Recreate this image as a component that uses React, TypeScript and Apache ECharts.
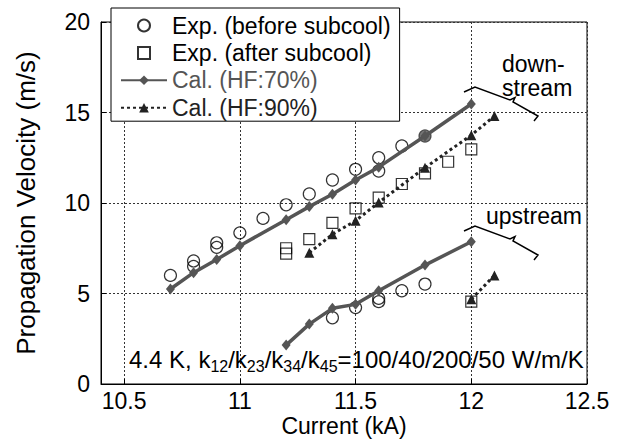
import React, { useEffect, useRef } from 'react';
import * as echarts from 'echarts';

const FONT = '"Liberation Sans", Arial, Helvetica, sans-serif';

// Experimental data, before subcool (downstream, upstream)
const expBeforeDown: number[][] = [
  [10.7, 6.0], [10.8, 6.8], [10.8, 6.5], [10.9, 7.8], [10.9, 7.55], [11.0, 8.35],
  [11.1, 9.15], [11.2, 9.9], [11.3, 10.5], [11.4, 11.27], [11.5, 11.86],
  [11.6, 12.5], [11.6, 11.77], [11.7, 13.15], [11.8, 13.7],
];
const expBeforeUp: number[][] = [
  [11.4, 3.66], [11.5, 4.22], [11.6, 4.73], [11.6, 4.55], [11.7, 5.15], [11.8, 5.52],
];
const grayFilledPoint = [11.8, 13.7];

// Experimental data, after subcool
const expAfterDown: number[][] = [
  [11.2, 7.5], [11.2, 7.2], [11.3, 8.0], [11.4, 8.9], [11.5, 9.7], [11.6, 10.3],
  [11.7, 11.05], [11.8, 11.64], [11.9, 12.28], [12.0, 12.96],
];
const expAfterUp: number[][] = [[12.0, 4.55]];

// Calculation HF 70%
const cal70Down: number[][] = [
  [10.7, 5.25], [10.8, 6.15], [10.9, 6.88], [11.0, 7.64], [11.2, 9.08], [11.3, 9.8],
  [11.4, 10.48], [11.5, 11.27], [11.6, 11.98], [11.8, 13.7], [12.0, 15.47],
];
const cal70Up: number[][] = [
  [11.2, 2.15], [11.3, 3.31], [11.4, 4.18], [11.5, 4.4], [11.6, 5.15], [11.8, 6.57], [12.0, 7.86],
];

// Calculation HF 90%
const cal90Down: number[][] = [
  [11.3, 7.25], [11.4, 8.27], [11.5, 9.02], [11.6, 10.03], [11.8, 11.95], [12.0, 13.75], [12.1, 14.8],
];
const cal90Up: number[][] = [[12.0, 4.68], [12.1, 6.0]];

const legendNames = ['Exp. (before subcool)', 'Exp. (after subcool)', 'Cal. (HF:70%)', 'Cal. (HF:90%)'];
const legendColors = ['#000', '#000', '#555', '#222'];

const xName = 'Current (kA)';
const yName = 'Propagation Velocity (m/s)';
const X_MIN = 10.4;
const X_MAX = 12.5;
const Y_MIN = 0;
const Y_MAX = 20;
const Y_STEP = 5;

const bracketShape = [[-11, 5], [0, 0], [35, 13], [40, 10.5], [38, 15], [63, 29], [59, 34]];

export default function App() {
  const ref = useRef<HTMLDivElement>(null);
  useEffect(() => {
    const chart = echarts.init(ref.current!, null, { renderer: 'svg' });
    const C70 = '#555';
    const C90 = '#222';
    const beforeData = [...expBeforeDown, ...expBeforeUp].map((p) => {
      const hl = p[0] === grayFilledPoint[0] && p[1] === grayFilledPoint[1];
      return hl ? { value: p, itemStyle: { color: C70, borderColor: '#333' } } : { value: p };
    });
    const bracket = (px: number, py: number) => ({
      type: 'polyline',
      shape: { points: bracketShape.map(([dx, dy]) => [px + dx, py + dy]) },
      style: { stroke: '#000', lineWidth: 1.5, fill: 'none' },
      silent: true,
      z: 50,
    });
    const legendIcons = ['circle', 'path://M0 0h10v10h-10z', undefined, undefined];
    const option: any = {
      animation: false,
      backgroundColor: '#fff',
      grid: {
        left: 101, right: 40, top: 22, bottom: 55, show: true, borderColor: '#000', borderWidth: 1,
        backgroundColor: 'transparent', containLabel: false, outerBoundsMode: 'none',
      },
      legend: {
        orient: 'vertical',
        left: 111,
        top: 8,
        padding: [6, 9, 2, 9],
        itemGap: 4.4,
        itemWidth: 46,
        itemHeight: 12,
        backgroundColor: '#fff',
        borderColor: '#000',
        borderWidth: 1,
        borderRadius: 0,
        selectedMode: false,
        textStyle: { fontSize: 23, fontFamily: FONT, color: '#000' },
        data: legendNames.map((n, i) => {
          const item: any = { name: n, textStyle: { color: legendColors[i], fontSize: 23, fontFamily: FONT } };
          if (legendIcons[i]) item.icon = legendIcons[i];
          return item;
        }),
        z: 20,
      },
      xAxis: {
        type: 'value',
        min: X_MIN,
        max: X_MAX,
        splitNumber: 4,
        name: xName,
        nameLocation: 'middle',
        nameGap: 30,
        nameMoveOverlap: false,
        nameTextStyle: { fontSize: 23, fontFamily: FONT, color: '#000' },
        axisLine: { show: true, lineStyle: { color: '#000', width: 1 } },
        axisTick: { show: true, inside: true, length: 5, lineStyle: { color: '#000' } },
        axisLabel: {
          fontSize: 23,
          fontFamily: FONT,
          color: '#000',
          margin: 5,
          formatter: (v: number) => (Math.abs(v * 2 - Math.round(v * 2)) < 1e-6 ? String(v) : ''),
        },
        splitLine: { show: true, lineStyle: { color: '#333', width: 1, type: [2, 2] } },
      },
      yAxis: {
        type: 'value',
        min: Y_MIN,
        max: Y_MAX,
        interval: Y_STEP,
        name: yName,
        nameLocation: 'middle',
        nameGap: 62,
        nameMoveOverlap: false,
        nameTextStyle: { fontSize: 26, fontFamily: FONT, color: '#000' },
        axisLine: { show: true, lineStyle: { color: '#000', width: 1 } },
        axisTick: { show: true, inside: true, length: 5, lineStyle: { color: '#000' } },
        axisLabel: { fontSize: 23, fontFamily: FONT, color: '#000', margin: 11 },
        splitLine: { show: true, lineStyle: { color: '#333', width: 1, type: [2, 2] } },
      },
      series: [
        {
          type: 'scatter', name: legendNames[0], data: beforeData, symbol: 'circle', symbolSize: 12,
          itemStyle: { color: 'rgba(255,255,255,0)', borderColor: '#000', borderWidth: 1.2 }, z: 2,
        },
        {
          type: 'scatter', name: legendNames[1], data: [...expAfterDown, ...expAfterUp], symbol: 'rect', symbolSize: 11,
          itemStyle: { color: 'rgba(255,255,255,0)', borderColor: '#000', borderWidth: 1.2 }, z: 2,
        },
        ...[cal70Down, cal70Up].map((d) => ({
          type: 'line', name: legendNames[2], data: d, symbol: 'diamond', symbolSize: [9, 11], showSymbol: true,
          lineStyle: { color: C70, width: 3.5 }, itemStyle: { color: C70 }, z: 3,
        })),
        ...[cal90Down, cal90Up].map((d) => ({
          type: 'line', name: legendNames[3], data: d, symbol: 'triangle', symbolSize: 10, showSymbol: true,
          lineStyle: { color: C90, width: 3, type: [3, 3] }, itemStyle: { color: C90 }, z: 3,
        })),
      ],
      graphic: [
        {
          type: 'text', x: 502, y: 76,
          style: { text: 'down-\nstream', fontSize: 23, lineHeight: 24, fontFamily: FONT, fill: '#000', verticalAlign: 'middle' },
          z: 50,
        },
        { type: 'text', x: 486, y: 216, style: { text: 'upstream', fontSize: 23, fontFamily: FONT, fill: '#000', verticalAlign: 'middle' }, z: 50 },
        bracket(475, 87),
        bracket(475, 226),
        {
          type: 'text', x: 129, y: 359, z: 50,
          style: {
            text: '4.4 K, k{s|12}/k{s|23}/k{s|34}/k{s|45}=100/40/200/50 W/m/K',
            fontSize: 24, fontFamily: FONT, fill: '#000', verticalAlign: 'middle', lineHeight: 30,
            rich: { s: { fontSize: 16, lineHeight: 16, verticalAlign: 'bottom', fontFamily: FONT, fill: '#000' } },
          },
        },
      ],
    };
    chart.setOption(option);
    return () => chart.dispose();
  }, []);
  return <div ref={ref} style={{ position: 'fixed', left: 0, top: 0, width: 627, height: 439 }} />;
}
